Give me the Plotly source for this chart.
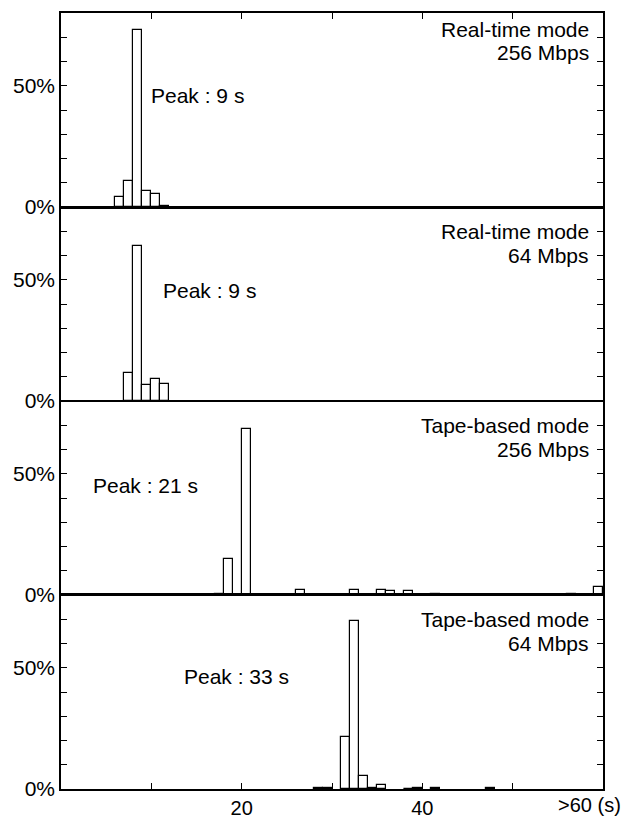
import plotly.graph_objects as go
from plotly.subplots import make_subplots

# Time bins (upper edge, seconds) and percentage of runs per bin
rt256_t = [7, 8, 9, 10, 11, 12]
rt256_p = [4.1, 10.7, 73.1, 6.8, 5.5, 0.3]

rt64_t = [8, 9, 10, 11, 12]
rt64_p = [11.6, 64.0, 6.4, 9.1, 7.0]

tb256_t = [18, 19, 21, 27, 33, 36, 37, 39, 42, 57, 60]
tb256_p = [0.4, 14.7, 68.3, 2.1, 2.1, 2.1, 1.6, 1.6, 0.3, 0.3, 3.4]

tb64_t = [29, 30, 32, 33, 34, 35, 36, 39, 40, 42, 48]
tb64_p = [0.3, 0.6, 21.4, 69.1, 5.2, 0.5, 1.6, 0.2, 0.3, 0.5, 0.5]

panel_titles = [("Real-time mode", "256 Mbps"), ("Real-time mode", "64 Mbps"),
                ("Tape-based mode", "256 Mbps"), ("Tape-based mode", "64 Mbps")]
peak_labels = ["Peak : 9 s", "Peak : 9 s", "Peak : 21 s", "Peak : 33 s"]
peak_pos = [(9.7, 45.8), (11.1, 45.5), (3.3, 45.3), (13.4, 46.5)]
title_y = [(73.3, 63.8), (70, 60), (70, 60), (70, 60)]

series = [(rt256_t, rt256_p), (rt64_t, rt64_p), (tb256_t, tb256_p), (tb64_t, tb64_p)]

FONT = "Liberation Sans, Arial, Helvetica, sans-serif"
FS = 21
fig = make_subplots(rows=4, cols=1, shared_xaxes=True, vertical_spacing=0)

for i, (t, p) in enumerate(series):
    r = i + 1
    fig.add_trace(go.Bar(
        x=[v - 0.5 for v in t], y=p, width=1,
        marker=dict(color="white", line=dict(color="black", width=1.2)),
        showlegend=False, hoverinfo="skip"), row=r, col=1)
    fig.update_yaxes(row=r, col=1, range=[0, 80], tickvals=[0, 10, 20, 30, 40, 50, 60, 70],
                     ticktext=["0%", "", "", "", "", "50%", "", ""],
                     ticks="inside", ticklen=6, tickwidth=1.2, tickcolor="black",
                     showline=True, linecolor="black", linewidth=1.5, mirror="ticks",
                     showgrid=False, zeroline=False, automargin=False,
                     tickfont=dict(family=FONT, size=FS, color="black"))
    xa = dict(range=[0, 60], showline=True, linecolor="black", linewidth=1.0, mirror=True,
              showgrid=False, zeroline=False, automargin=False)
    if r == 1:
        xa.update(side="top", ticks="inside", ticklen=6, tickwidth=1.2, tickcolor="black",
                  tickvals=[10, 20, 30, 40, 50], showticklabels=False, linewidth=1.5)
    elif r == 4:
        xa.update(ticks="inside", ticklen=6, tickwidth=1.2, tickcolor="black",
                  tickvals=[10, 20, 30, 40, 50], ticktext=["", "20", "", "40", ""],
                  showticklabels=True, ticklabelstandoff=0, linewidth=1.5,
                  tickfont=dict(family=FONT, size=20, color="black"))
    else:
        xa.update(ticks="")
    fig.update_xaxes(row=r, col=1, **xa)

    yref = "y" if r == 1 else f"y{r}"
    xref = "x" if r == 1 else f"x{r}"
    fig.add_annotation(x=peak_pos[i][0], y=peak_pos[i][1], xref=xref, yref=yref,
                       text=peak_labels[i], showarrow=False, xanchor="left", yanchor="middle",
                       font=dict(family=FONT, size=FS, color="black"))
    for line, yy in zip(panel_titles[i], title_y[i]):
        fig.add_annotation(x=0.978, y=yy, xref="paper", yref=yref, text=line,
                           showarrow=False, xanchor="right", yanchor="middle",
                           font=dict(family=FONT, size=FS, color="black"))

fig.add_annotation(x=1.037, y=-0.021, xref="paper", yref="paper", text="&gt;60 (s)",
                   showarrow=False, xanchor="right", yanchor="middle",
                   font=dict(family=FONT, size=20, color="black"))

fig.update_layout(width=627, height=820, margin=dict(l=61, r=24, t=13, b=31),
                  paper_bgcolor="white", plot_bgcolor="white", bargap=0,
                  font=dict(family=FONT, size=FS, color="black"))

fig.write_html("out.html")
